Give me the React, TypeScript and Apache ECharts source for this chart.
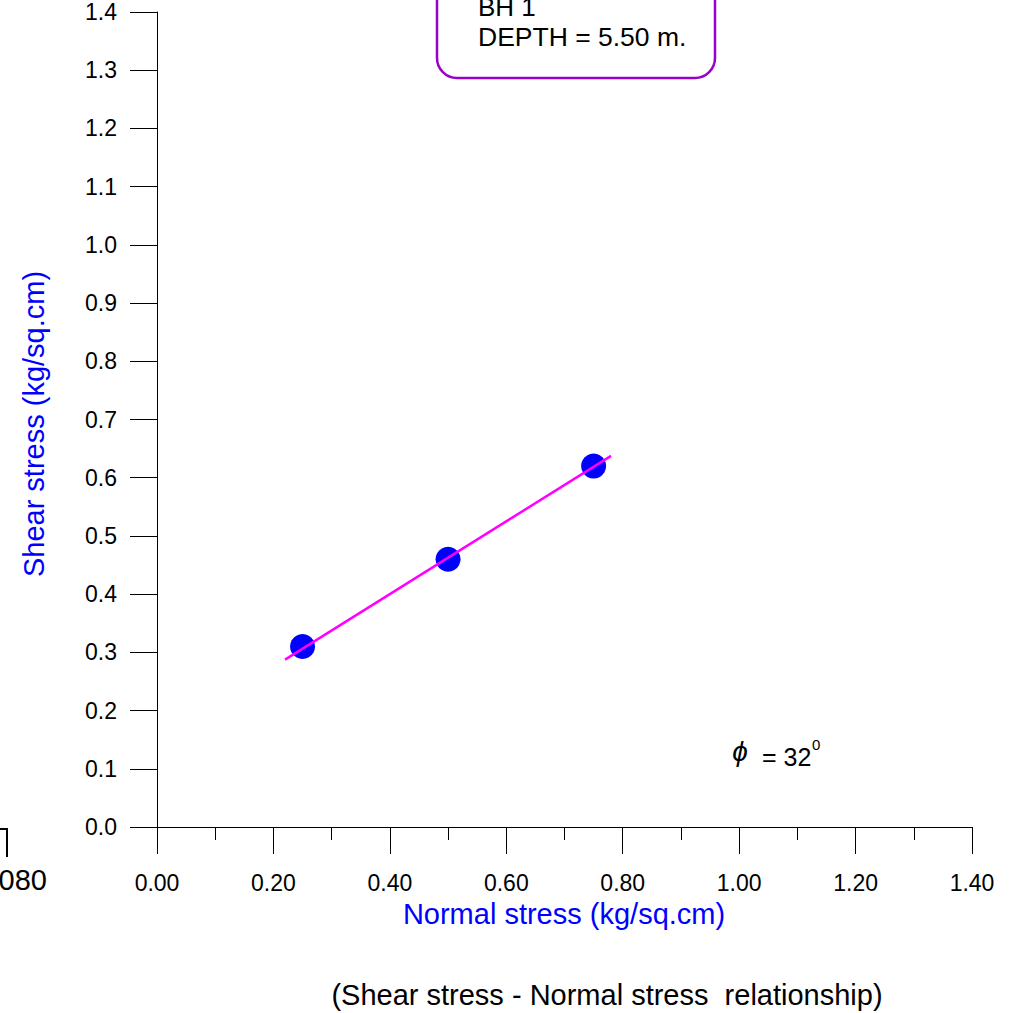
import React, { useEffect, useRef } from "react";
import * as echarts from "echarts";

// Direct shear test results: normal stress vs shear stress (kg/sq.cm)
const normalStress = [0.25, 0.5, 0.75];
const shearStress = [0.31, 0.46, 0.62];

// Failure envelope endpoints (c ≈ 0.15, φ = 32°)
const envelopeX = [0.22, 0.78];
const envelopeY = [0.2875, 0.6375];

const xTicks = { min: 0, max: 1.4, interval: 0.2 };
const yTicks = { min: 0, max: 1.4, interval: 0.1 };

const boreholeLabel = "BH 1";
const depthLabel = "DEPTH = 5.50 m.";
const phiValue = "32";

const FONT = "'Liberation Sans', Arial, sans-serif";

export default function App() {
  const ref = useRef<HTMLDivElement>(null);

  useEffect(() => {
    if (!ref.current) return;
    const chart = echarts.init(ref.current, undefined, { renderer: "svg" });

    const points = normalStress.map((x, i) => [x, shearStress[i]]);
    const envelope = envelopeX.map((x, i) => [x, envelopeY[i]]);

    chart.setOption({
      animation: false,
      backgroundColor: "#ffffff",
      grid: { left: 157, right: 47, top: 12, bottom: 186, containLabel: false },
      xAxis: {
        type: "value",
        min: xTicks.min,
        max: xTicks.max,
        interval: xTicks.interval,
        axisLine: { show: true, lineStyle: { color: "#000", width: 1 } },
        axisTick: { show: true, length: 27, lineStyle: { color: "#000", width: 1 } },
        minorTick: { show: true, splitNumber: 2, length: 13, lineStyle: { color: "#000", width: 1 } },
        splitLine: { show: false },
        axisLabel: {
          margin: 44,
          color: "#000",
          fontSize: 23,
          fontFamily: FONT,
          formatter: (v: number) => v.toFixed(2),
        },
      },
      yAxis: {
        type: "value",
        min: yTicks.min,
        max: yTicks.max,
        interval: yTicks.interval,
        axisLine: { show: true, lineStyle: { color: "#000", width: 1 } },
        axisTick: { show: true, length: 27, lineStyle: { color: "#000", width: 1 } },
        splitLine: { show: false },
        axisLabel: {
          margin: 40,
          color: "#000",
          fontSize: 23,
          fontFamily: FONT,
          formatter: (v: number) => v.toFixed(1),
        },
      },
      series: [
        {
          type: "scatter",
          data: points,
          symbol: "circle",
          symbolSize: 25,
          itemStyle: { color: "#0000ff", opacity: 1 },
          z: 2,
        },
        {
          type: "line",
          data: envelope,
          showSymbol: false,
          symbol: "none",
          lineStyle: { color: "#ff00ff", width: 2.5 },
          z: 3,
        },
      ],
      graphic: [
        {
          type: "rect",
          shape: { x: 437, y: -30, width: 278, height: 108, r: 20 },
          style: { fill: "#fff", stroke: "#9900cc", lineWidth: 2.5 },
          z: 10,
        },
        {
          type: "text",
          x: 478,
          y: 7,
          style: { text: boreholeLabel, fontSize: 26, fontFamily: FONT, fill: "#000", verticalAlign: "middle" },
          z: 11,
        },
        {
          type: "text",
          x: 478,
          y: 37,
          style: { text: depthLabel, fontSize: 26.5, fontFamily: FONT, fill: "#000", verticalAlign: "middle" },
          z: 11,
        },
        {
          type: "text",
          x: 740,
          y: 751,
          style: { text: "ϕ", fontSize: 28, fontStyle: "italic", fontFamily: FONT, fill: "#000", align: "center", verticalAlign: "middle" },
        },
        {
          type: "text",
          x: 762,
          y: 757,
          style: { text: "= " + phiValue, fontSize: 25, fontFamily: FONT, fill: "#000", verticalAlign: "middle" },
        },
        {
          type: "text",
          x: 812,
          y: 744,
          style: { text: "0", fontSize: 15, fontFamily: FONT, fill: "#000", verticalAlign: "middle" },
        },
        {
          type: "text",
          x: 34,
          y: 424,
          rotation: Math.PI / 2,
          style: { text: "Shear stress (kg/sq.cm)", fontSize: 29, fontFamily: FONT, fill: "#0000ff", align: "center", verticalAlign: "middle" },
        },
        {
          type: "text",
          x: 564,
          y: 914,
          style: { text: "Normal stress (kg/sq.cm)", fontSize: 29, fontFamily: FONT, fill: "#0000ff", align: "center", verticalAlign: "middle" },
        },
        {
          type: "text",
          x: 607,
          y: 995,
          style: { text: "(Shear stress - Normal stress  relationship)", fontSize: 29, fontFamily: FONT, fill: "#000", align: "center", verticalAlign: "middle" },
        },
        {
          type: "text",
          x: 47,
          y: 880,
          style: { text: "080", fontSize: 29, fontFamily: FONT, fill: "#000", align: "right", verticalAlign: "middle" },
        },
        {
          type: "polyline",
          shape: { points: [[0, 829], [7, 829], [7, 857]] },
          style: { stroke: "#000", lineWidth: 2, fill: "none" },
        },
      ],
    });

    return () => chart.dispose();
  }, []);

  return <div ref={ref} style={{ width: 1019, height: 1013, position: "absolute", left: 0, top: 0 }} />;
}
